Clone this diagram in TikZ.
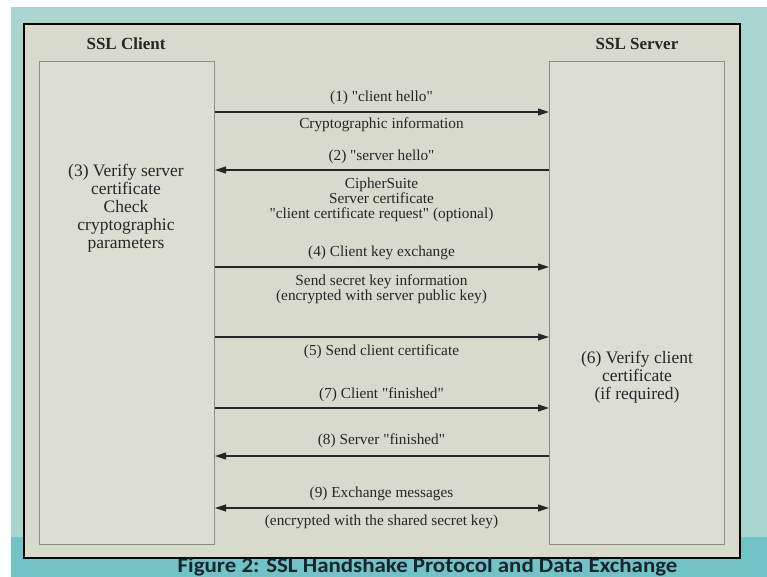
\documentclass[tikz,border=0pt]{standalone}
\usepackage{fontspec}
\setmainfont{Liberation Serif}[Ligatures=TeXOff]
\newfontfamily\capfont{Carlito}[FakeStretch=1.09]
\usetikzlibrary{arrows.meta}
\definecolor{tealL}{HTML}{A9D4D0}
\definecolor{tealD}{HTML}{72C3C5}
\definecolor{panel}{HTML}{D8DBCB}
\definecolor{boxfill}{HTML}{DCDED1}
\definecolor{boxline}{HTML}{8C8F86}
\definecolor{ink}{HTML}{262626}
\definecolor{capink}{HTML}{16252E}
\tikzset{
  party/.style={draw=boxline, line width=1.1pt, fill=boxfill, minimum width=175pt, minimum height=483pt, anchor=north west, inner sep=0pt},
  head/.style={text=ink, font=\fontsize{17}{18}\selectfont\bfseries},
  boxtxt/.style={text=ink, align=center, font=\fontsize{17.5}{18}\selectfont},
  lbl/.style={text=ink, align=center, font=\fontsize{15.3}{15}\selectfont, inner sep=0pt},
  msg/.style={draw=ink, line width=1.1pt, -{Triangle[length=11pt,width=7pt]}},
  msgboth/.style={draw=ink, line width=1.1pt, {Triangle[length=11pt,width=7pt]}-{Triangle[length=11pt,width=7pt]}},
}
\begin{document}
\begin{tikzpicture}[x=1pt, y=-1pt]
\useasboundingbox (0,0) rectangle (767,577);
\fill[white] (0,0) rectangle (767,577);
\fill[tealL] (11,7) rectangle (767,577);
\fill[tealD] (11,537) rectangle (767,577);
\node[draw=black, line width=1.6pt, fill=panel, minimum width=716pt, minimum height=534pt, anchor=north west, inner sep=0pt] (frame) at (23,23) {};
\node[party] (client) at (39,61) {};
\node[party] (server) at (549,61) {};
\node[head] (hc) at (126,44) {SSL Client};
\node[head] (hs) at (637,44) {SSL Server};
\node[boxtxt] (ctext) at (126,208) {(3) Verify server\\certificate\\Check\\cryptographic\\parameters};
\node[boxtxt] (stext) at (637,377) {(6) Verify client\\certificate\\(if required)};
% messages
\draw[msg] (client.east |- 0,112) -- (server.west |- 0,112);
\draw[msg] (server.west |- 0,170) -- (client.east |- 0,170);
\draw[msg] (client.east |- 0,267) -- (server.west |- 0,267);
\draw[msg] (client.east |- 0,337) -- (server.west |- 0,337);
\draw[msg] (client.east |- 0,408) -- (server.west |- 0,408);
\draw[msg] (server.west |- 0,456) -- (client.east |- 0,456);
\draw[msgboth] (client.east |- 0,508) -- (server.west |- 0,508);
% labels
\node[lbl] (l1a) at (381.5,98) {(1) "client hello"};
\node[lbl] (l1b) at (381.5,125) {Cryptographic information};
\node[lbl] (l2a) at (381.5,157) {(2) "server hello"};
\node[lbl] (l2b) at (381.5,200) {CipherSuite\\Server certificate\\"client certificate request" (optional)};
\node[lbl] (l4a) at (381.5,253) {(4) Client key exchange};
\node[lbl] (l4b) at (381.5,289.5) {Send secret key information\\(encrypted with server public key)};
\node[lbl] (l5) at (381.5,352) {(5) Send client certificate};
\node[lbl] (l7) at (381.5,395) {(7) Client "finished"};
\node[lbl] (l8) at (381.5,441) {(8) Server "finished"};
\node[lbl] (l9a) at (381.5,494) {(9) Exchange messages};
\node[lbl] (l9b) at (381.5,522) {(encrypted with the shared secret key)};
% caption
\node[anchor=base, text=capink, font=\capfont\bfseries\fontsize{21}{22}\selectfont, inner sep=0pt] (cap) at (427.5,572.3) {Figure 2: SSL Handshake Protocol and Data Exchange};
\end{tikzpicture}
\end{document}
